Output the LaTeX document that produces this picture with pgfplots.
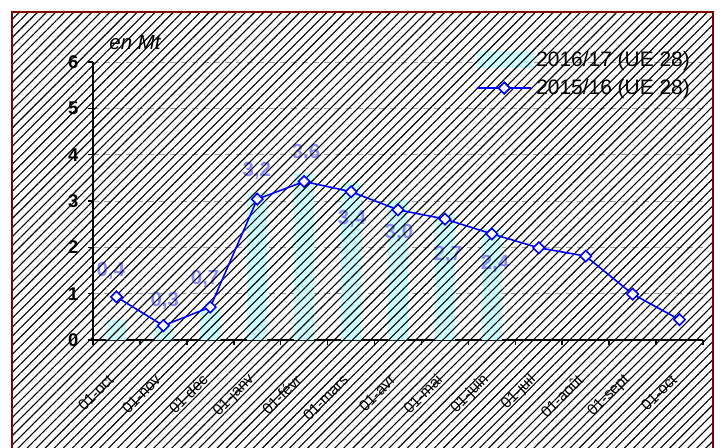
\documentclass[border=0pt]{standalone}
\usepackage{pgfplots}
\pgfplotsset{compat=1.18}
\usepackage{fontspec}
\setmainfont{Liberation Sans}
\usetikzlibrary{patterns.meta}
\definecolor{barcyan}{RGB}{204,255,255}
\definecolor{lbl}{RGB}{140,140,255}
\definecolor{framered}{RGB}{128,0,0}
\definecolor{lineblue}{RGB}{0,0,255}
\definecolor{gridgray}{RGB}{160,160,160}
\newcommand{\fs}{\fontsize{20.5}{24}\selectfont}

\pgfplotsset{
  base/.style={
    at={(93bp,108bp)}, anchor=south west, scale only axis,
    width=610bp, height=278bp,
    xmin=-0.5, xmax=12.5, ymin=0, ymax=6, clip=false,
    legend style={at={(rel axis cs:0.982,1.047)}, anchor=north east, draw=none, fill=none,
      font=\fontsize{21}{24}\selectfont, row sep=8bp, inner sep=0pt},
    legend cell align=left,
  },
  lineseries/.style={
    lineblue, line width=1.6bp, mark=square*, mark size=4bp,
    mark options={fill=white, draw=lineblue, rotate=45, line width=1.6bp, solid},
  },
  linelegend/.style={
    legend image code/.code={\draw[lineblue, line width=1.6bp] (0bp,0bp) -- (54bp,0bp);
      \draw[lineblue, line width=1.6bp, mark=square*, mark size=4bp,
        mark options={fill=white, draw=lineblue, rotate=45}] plot coordinates {(27bp,0bp)};}
  },
}

\begin{document}
\begin{tikzpicture}
\useasboundingbox (0,0) rectangle (720bp,448bp);
\fill[white] (0,0) rectangle (720bp,448bp);

\begin{axis}[base,
  axis lines*=left,
  axis line style={line width=1.5bp, black},
  tick align=outside,
  tick style={black, line width=1.5bp},
  xtick={0,...,12},
  xticklabels={01-oct,01-nov,01-déc,01-janv,01-févr,01-mars,01-avr,01-mai,01-juin,01-juil,01-août,01-sept,01-oct},
  major x tick style={draw=none},
  minor xtick={-0.5,0.5,...,12.5},
  minor tick length=5bp,
  ytick={0,...,6},
  major tick length=5bp,
  ymajorgrids,
  grid style={gridgray, line width=1bp, dash pattern=on 6bp off 5bp},
  /pgf/number format/assume math mode=true,
  yticklabel style={font=\bfseries\fontsize{18.5}{22}\selectfont, xshift=-6bp},
  xticklabel style={font=\fontsize{15.5}{18}\selectfont, xshift=-3bp, yshift=-30bp, rotate=45, anchor=east},
]
\addplot[ybar, bar width=20bp, fill=barcyan, draw=none,
  legend image code/.code={\fill[barcyan] (0bp,-8.5bp) rectangle (57bp,8.5bp);}]
  coordinates {(0,0.44) (1,0.31) (2,0.68) (3,3.18) (4,3.6) (5,3.39) (6,3.02) (7,2.7) (8,2.4)};
\addlegendentry{2016/17 (UE 28)}
\addlegendimage{linelegend}
\addlegendentry{2015/16 (UE 28)}

\begin{scope}[every node/.style={text=lbl, font=\bfseries\fs}]
\node at (axis cs:-0.12,1.49) {0,4};
\node at (axis cs:1.03,0.84) {0,3};
\node at (axis cs:1.89,1.32) {0,7};
\node at (axis cs:2.99,3.65) {3,2};
\node at (axis cs:4.04,4.04) {3,6};
\node at (axis cs:5.02,2.61) {3,4};
\node at (axis cs:6.02,2.31) {3,0};
\node at (axis cs:7.06,1.83) {2,7};
\node at (axis cs:8.07,1.64) {2,4};
\end{scope}
\end{axis}

\node[font=\itshape\fs] at (135bp,405bp) {en Mt};

\fill[pattern={Lines[angle=45,distance=6.4bp,line width=1.1bp]}, pattern color=black]
  (12bp,0bp) rectangle (713bp,436bp);
\draw[framered, line width=2bp] (12bp,-5bp) -- (12bp,436bp) -- (713bp,436bp) -- (713bp,-5bp);

\begin{axis}[base, hide axis]
\addlegendimage{draw=none, fill=none,
  legend image code/.code={\path[draw=none, fill=none] (0bp,-8.5bp) rectangle (57bp,8.5bp);}}
\addlegendentry{\phantom{2016/17 (UE 28)}}
\addplot[lineseries, linelegend] coordinates {
(0,0.93) (1,0.31) (2,0.71) (3,3.04) (4,3.42) (5,3.2) (6,2.81) (7,2.61) (8,2.29) (9,1.99) (10,1.81) (11,0.99) (12,0.44)};
\addlegendentry{\phantom{2015/16 (UE 28)}}
\end{axis}
\end{tikzpicture}
\end{document}
